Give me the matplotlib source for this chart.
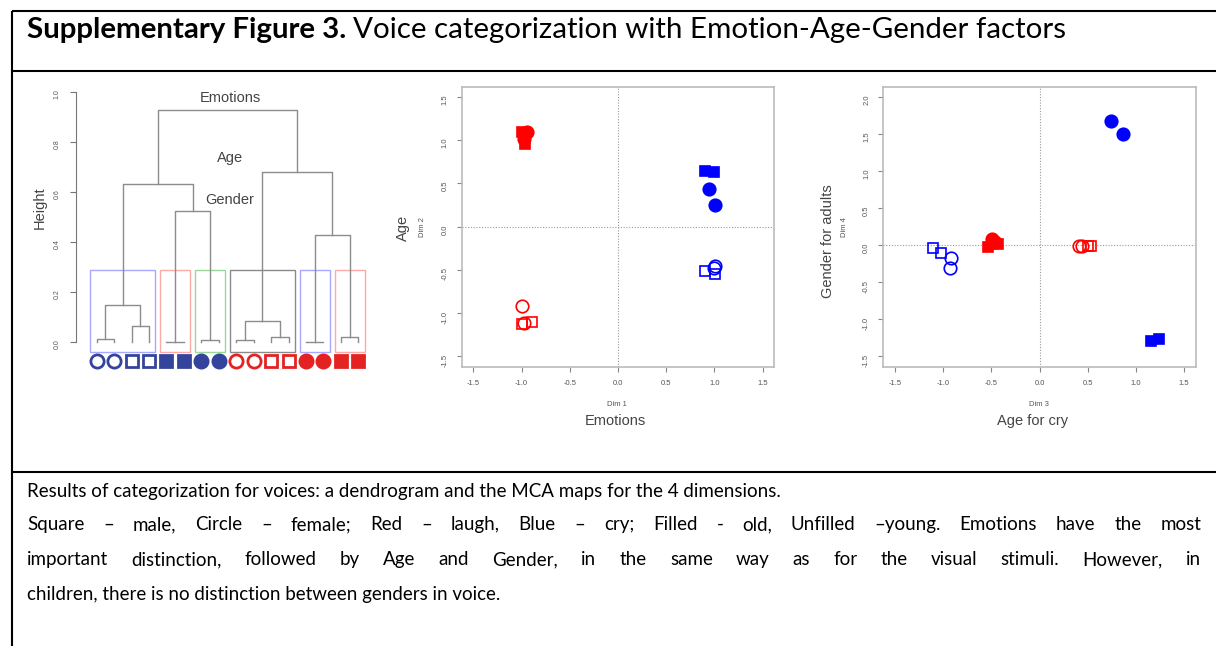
import matplotlib
matplotlib.use('Agg')
from matplotlib import pyplot as plt

W, H = 1216, 646

# 16 voices: emotion x age x gender, 2 voices each
emotion = ['laugh'] * 8 + ['cry'] * 8
age = (['old'] * 4 + ['young'] * 4) * 2
gender = (['female'] * 2 + ['male'] * 2) * 4

# MCA coordinates
dim1 = [-0.94, -0.97, -1.00, -0.96, -0.99, -0.97, -1.00, -0.89,
        0.94, 1.01, 0.90, 1.00, 1.01, 1.00, 0.90, 1.01]
dim2 = [1.10, 1.02, 1.10, 0.96, -0.92, -1.12, -1.13, -1.10,
        0.44, 0.25, 0.65, 0.63, -0.45, -0.48, -0.51, -0.55]
dim3 = [-0.49, -0.46, -0.53, -0.43, 0.41, 0.44, 0.50, 0.53,
        0.74, 0.87, 1.16, 1.24, -0.92, -0.93, -1.10, -1.02]
dim4 = [0.08, 0.05, -0.02, 0.01, -0.01, -0.01, -0.01, -0.01,
        1.68, 1.50, -1.29, -1.26, -0.17, -0.31, -0.04, -0.11]

# dendrogram (hclust style: negative = leaf position, positive = earlier merge)
leaf_order = [12, 13, 14, 15, 10, 11, 8, 9, 4, 5, 6, 7, 0, 1, 2, 3]
merge_left = [-1, -3, 1, -5, -7, 4, 3, -9, -11, 8, -13, -15, 11, 10, 7]
merge_right = [-2, -4, 2, -6, -8, 5, 6, -10, -12, 9, -14, -16, 12, 13, 14]
merge_height = [0.013, 0.064, 0.149, 0.0, 0.010, 0.524, 0.632, 0.010,
                0.020, 0.084, 0.0, 0.020, 0.430, 0.679, 0.929]
rect_first = [1, 5, 7, 9, 13, 15]
rect_last = [4, 6, 8, 12, 14, 16]
rect_colors = ['#a8a8ff', '#ffa8a8', '#9ad89a', '#8a8a8a', '#a8a8ff', '#ffa8a8']

title_bold = "Supplementary Figure 3."
title_rest = "Voice categorization with Emotion-Age-Gender factors"
caption = [
    "Results of categorization for voices: a dendrogram and the MCA maps for the 4 dimensions.",
    "Square \u2013 male, Circle \u2013 female;  Red \u2013 laugh, Blue \u2013 cry; Filled - old, Unfilled \u2013young. Emotions have the most",
    "important distinction, followed by Age and Gender, in the same way as for the visual stimuli. However, in",
    "children, there is no distinction between genders in voice.",
]

plt.rcParams['font.family'] = ['Liberation Sans', 'DejaVu Sans']
plt.rcParams['axes.unicode_minus'] = False
DOC_FONT = ['Lato', 'DejaVu Sans']
AXIS_GRAY = '#555555'


def px_rect(x0, y0, x1, y1):
    return [x0 / W, 1 - y1 / H, (x1 - x0) / W, (y1 - y0) / H]


def style(i):
    color = '#ff0000' if emotion[i] == 'laugh' else '#0000ff'
    marker = 's' if gender[i] == 'male' else 'o'
    face = color if age[i] == 'old' else 'none'
    return color, marker, face


fig = plt.figure(figsize=(W / 100, H / 100), dpi=100)
over = fig.add_axes([0, 0, 1, 1])
over.set_xlim(0, W)
over.set_ylim(H, 0)
over.axis('off')
renderer = fig.canvas.get_renderer()

# table frame
for y in [11, 71, 472]:
    over.plot([12, W], [y, y], color='black', lw=1.5, solid_capstyle='butt')
over.plot([12, 12], [11, H], color='black', lw=1.5, solid_capstyle='butt')


def width(t):
    return t.get_window_extent(renderer).width


# title, fitted to the reference width
tb = over.text(27, 38, title_bold, fontsize=16, fontweight='bold', family=DOC_FONT, va='baseline')
tr = over.text(0, 38, title_rest, fontsize=16, family=DOC_FONT, va='baseline')
scale = 1043 / (width(tb) + width(tr) + 5)
tb.set_fontsize(16 * scale)
tr.set_fontsize(16 * scale)
tr.set_x(27 + width(tb) + 0.3 * 16 * scale)

# caption
t0 = over.text(27, 497, caption[0], fontsize=14, family=DOC_FONT, va='baseline')
cap_size = 14 * 755 / width(t0)
t0.set_fontsize(cap_size)
for line, y in zip(caption[1:3], [530, 565]):
    words = line.split()
    items = [over.text(0, y, w, fontsize=cap_size, family=DOC_FONT, va='baseline') for w in words]
    widths = [width(t) for t in items]
    gap = (1201 - 27 - sum(widths)) / (len(words) - 1)
    x = 27
    for t, w in zip(items, widths):
        t.set_x(x)
        x += w + gap
over.text(27, 600, caption[3], fontsize=cap_size, family=DOC_FONT, va='baseline')

# dendrogram
dax = fig.add_axes(px_rect(60, 85, 380, 375))
dax.set_facecolor('none')
dax.set_xlim(1 + (60 - 96.7) / 17.44, 1 + (380 - 96.7) / 17.44)
dax.set_ylim((342 - 375) / 250, (342 - 85) / 250)
xs, hs = {}, {}
for k, (a, b, h) in enumerate(zip(merge_left, merge_right, merge_height), 1):
    xa, ha = (-a, 0.0) if a < 0 else (xs[a], hs[a])
    xb, hb = (-b, 0.0) if b < 0 else (xs[b], hs[b])
    dax.plot([xa, xa, xb, xb], [ha, h, h, hb], color='#8c8c8c', lw=1.0)
    xs[k] = (xa + xb) / 2
    hs[k] = h
for first, last, c in zip(rect_first, rect_last, rect_colors):
    dax.add_patch(plt.Rectangle((first - 0.36, -0.04), last - first + 0.72, 0.328,
                                fill=False, edgecolor=c, lw=1.0))
for pos, i in enumerate(leaf_order, 1):
    color, marker, face = style(i)
    color = '#e52222' if emotion[i] == 'laugh' else '#34449c'
    face = color if age[i] == 'old' else 'none'
    dax.plot(pos, -0.076, marker=marker, ms=9.5 if marker == 'o' else 8.5,
             mfc=face, mec=color, mew=2.0, ls='none')
for sp in ['top', 'right', 'bottom']:
    dax.spines[sp].set_visible(False)
dax.spines['left'].set_position(('data', 1 + (76 - 96.7) / 17.44))
dax.spines['left'].set_bounds(0, 1)
dax.spines['left'].set_color('#777777')
dax.set_xticks([])
dax.set_yticks([0, 0.2, 0.4, 0.6, 0.8, 1.0])
dax.set_yticklabels(['0.0', '0.2', '0.4', '0.6', '0.8', '1.0'])
dax.tick_params(axis='y', length=4, color='#777777', labelsize=5, labelcolor=AXIS_GRAY,
                labelrotation=90, pad=7)
for txt, y in [('Emotions', 0.976), ('Age', 0.736), ('Gender', 0.568)]:
    dax.text(1 + (230 - 96.7) / 17.44, y, txt, fontsize=10.5, color='#444444', ha='center', va='center')
over.text(40, 208, 'Height', fontsize=10.5, color='#444444', rotation=90, ha='center', va='center')


def mca_panel(rect, x, y, ylim, yticks):
    ax = fig.add_axes(rect)
    ax.axhline(0, color='#999999', lw=0.8, ls=(0, (1, 1.5)), zorder=1)
    ax.axvline(0, color='#999999', lw=0.8, ls=(0, (1, 1.5)), zorder=1)
    for i in range(len(x)):
        color, marker, face = style(i)
        ax.plot(x[i], y[i], marker=marker, ms=9 if marker == 'o' else 7.5,
                mfc=face, mec=color, mew=1.2, ls='none', zorder=3)
    ax.set_xlim(-1.62, 1.62)
    ax.set_ylim(*ylim)
    ticks = [-1.5, -1.0, -0.5, 0.0, 0.5, 1.0, 1.5]
    ax.set_xticks(ticks)
    ax.set_xticklabels(['%.1f' % t for t in ticks])
    ax.set_yticks(yticks)
    ax.set_yticklabels(['%.1f' % t for t in yticks])
    ax.tick_params(length=3.5, color='#888888', labelsize=5.5, labelcolor=AXIS_GRAY, pad=6)
    ax.tick_params(axis='y', labelrotation=90)
    for sp in ax.spines.values():
        sp.set_color('#bbbbbb')
        sp.set_linewidth(1.2)
    return ax


mca_panel(px_rect(461.7, 86.7, 774.3, 366.7), dim1, dim2, (-1.62, 1.62),
          [-1.5, -1.0, -0.5, 0.0, 0.5, 1.0, 1.5])
mca_panel(px_rect(883.3, 86.7, 1195.7, 366.7), dim3, dim4, (-1.64, 2.14),
          [-1.5, -1.0, -0.5, 0.0, 0.5, 1.0, 1.5, 2.0])

small = dict(fontsize=5.5, color=AXIS_GRAY, ha='center', va='center')
big = dict(fontsize=10.5, color='#444444', ha='center', va='center')
over.text(617, 404, 'Dim 1', **small)
over.text(615, 421, 'Emotions', **big)
over.text(423, 227, 'Dim 2', rotation=90, **small)
over.text(403, 228, 'Age', rotation=90, **big)
over.text(1039, 404, 'Dim 3', **small)
over.text(1033, 421, 'Age for cry', **big)
over.text(845, 227, 'Dim 4', rotation=90, **small)
over.text(828, 241, 'Gender for adults', rotation=90, **big)

fig.savefig('out.png', dpi=100)
